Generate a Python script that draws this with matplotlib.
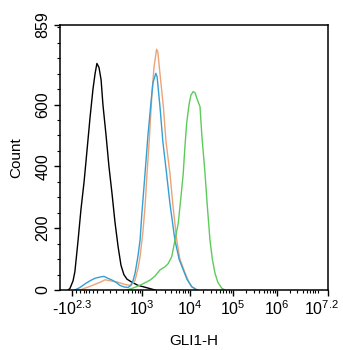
import numpy as np
import matplotlib
matplotlib.use("Agg")
import matplotlib.pyplot as plt
import matplotlib.transforms as mtransforms

plt.rcParams['font.family'] = ['Liberation Sans', 'DejaVu Sans']
plt.rcParams['mathtext.fontset'] = 'custom'
plt.rcParams['mathtext.rm'] = 'Liberation Sans'
plt.rcParams['mathtext.it'] = 'Liberation Sans'

# x in display channels (0-1024, biexponential axis), y in counts
black_x = [31, 38, 50, 57, 69, 80, 92, 103, 115, 126, 134, 141, 149, 157, 164, 176, 187, 199,
           210, 222, 233, 244, 256, 275, 298, 329, 363]
black_y = [0, 5, 30, 60, 160, 260, 350, 450, 560, 650, 700, 733, 720, 680, 600, 500, 400, 310,
           220, 140, 80, 50, 35, 25, 15, 8, 0]

cyan_x = [57, 76, 96, 115, 134, 153, 168, 183, 199, 214, 229, 244, 260, 271, 279, 287, 298, 306,
          313, 325, 336, 348, 355, 366, 371, 382, 393, 407, 420, 439, 455, 471, 485, 503, 522]
cyan_y = [0, 8, 20, 30, 38, 42, 44, 38, 32, 25, 15, 10, 8, 15, 30, 55, 110, 162,
          250, 378, 500, 610, 670, 701, 690, 593, 480, 378, 280, 162, 100, 65, 35, 11, 0]

orange_x = [76, 115, 153, 172, 191, 222, 248, 267, 279, 287, 298, 306, 317, 325, 332, 341, 351,
            359, 369, 374, 382, 395, 405, 420, 432, 446, 458, 478, 493, 504, 527]
orange_y = [0, 12, 25, 33, 30, 25, 18, 15, 22, 32, 70, 108, 190, 270, 370, 485, 630,
            720, 779, 770, 700, 593, 480, 378, 270, 162, 100, 55, 25, 10, 0]

green_x = [255, 275, 293, 317, 344, 363, 382, 401, 413, 427, 439, 452, 462, 471, 477, 484, 493,
           500, 509, 516, 523, 535, 542, 554, 563, 573, 582, 592, 603, 618, 630]
green_y = [0, 5, 11, 20, 32, 45, 65, 75, 85, 108, 160, 217, 300, 378, 460, 540, 600,
           630, 642, 638, 620, 593, 500, 378, 270, 162, 100, 55, 25, 6, 0]

# axis decades and their channel positions
tick_pos = [46, 313, 497, 661, 829, 1024]
tick_lab = [r'-$10^{2.3}$', r'$10^{3}$', r'$10^{4}$', r'$10^{5}$', r'$10^{6}$', r'$10^{7.2}$']
dec_log = [3, 4, 5, 6, 7.2]
dec_pos = [313, 497, 661, 829, 1024]

fig = plt.figure(figsize=(3.43, 3.5), dpi=100)
ax = fig.add_axes([60/343, 60/350, 268/343, 265.5/350])

ax.plot(black_x, black_y, color='black', lw=1.0)
ax.plot(orange_x, orange_y, color='#EBA478', lw=1.0)
ax.plot(cyan_x, cyan_y, color='#339FD2', lw=1.0)
ax.plot(green_x, green_y, color='#5DCB5A', lw=1.0)

ax.set_xlim(0, 1024)
ax.set_ylim(0, 859)

ax.set_xticks(tick_pos)
ax.set_xticklabels(tick_lab)
minor = []
for d in range(3, 7):
    for k in range(2, 10):
        lv = d + np.log10(k)
        if lv < 7.2:
            minor.append(np.interp(lv, dec_log, dec_pos))
minor += [60, 75, 90, 100, 112, 125, 140, 165, 190, 215, 240, 260, 275, 288, 298, 306]
ax.set_xticks(minor, minor=True)

ax.set_yticks([0, 200, 400, 600, 859])
ax.set_yticks(np.arange(0, 859, 50), minor=True)
for lab in ax.get_yticklabels():
    lab.set_rotation(90)
    lab.set_va('center')

ax.tick_params(which='major', direction='out', length=4, width=1, labelsize=11.5, pad=3)
ax.tick_params(which='minor', direction='out', length=2, width=0.8)
for s in ax.spines.values():
    s.set_linewidth(1.1)

# last label sits a bit left so it stays inside the figure
last = ax.get_xticklabels()[-1]
last.set_transform(last.get_transform() + mtransforms.ScaledTranslation(-7/100, 0, fig.dpi_scale_trans))

ax.set_xlabel('GLI1-H', fontsize=11, labelpad=11)
ax.set_ylabel('Count', fontsize=11, labelpad=9)

fig.savefig('out.png', dpi=100)
